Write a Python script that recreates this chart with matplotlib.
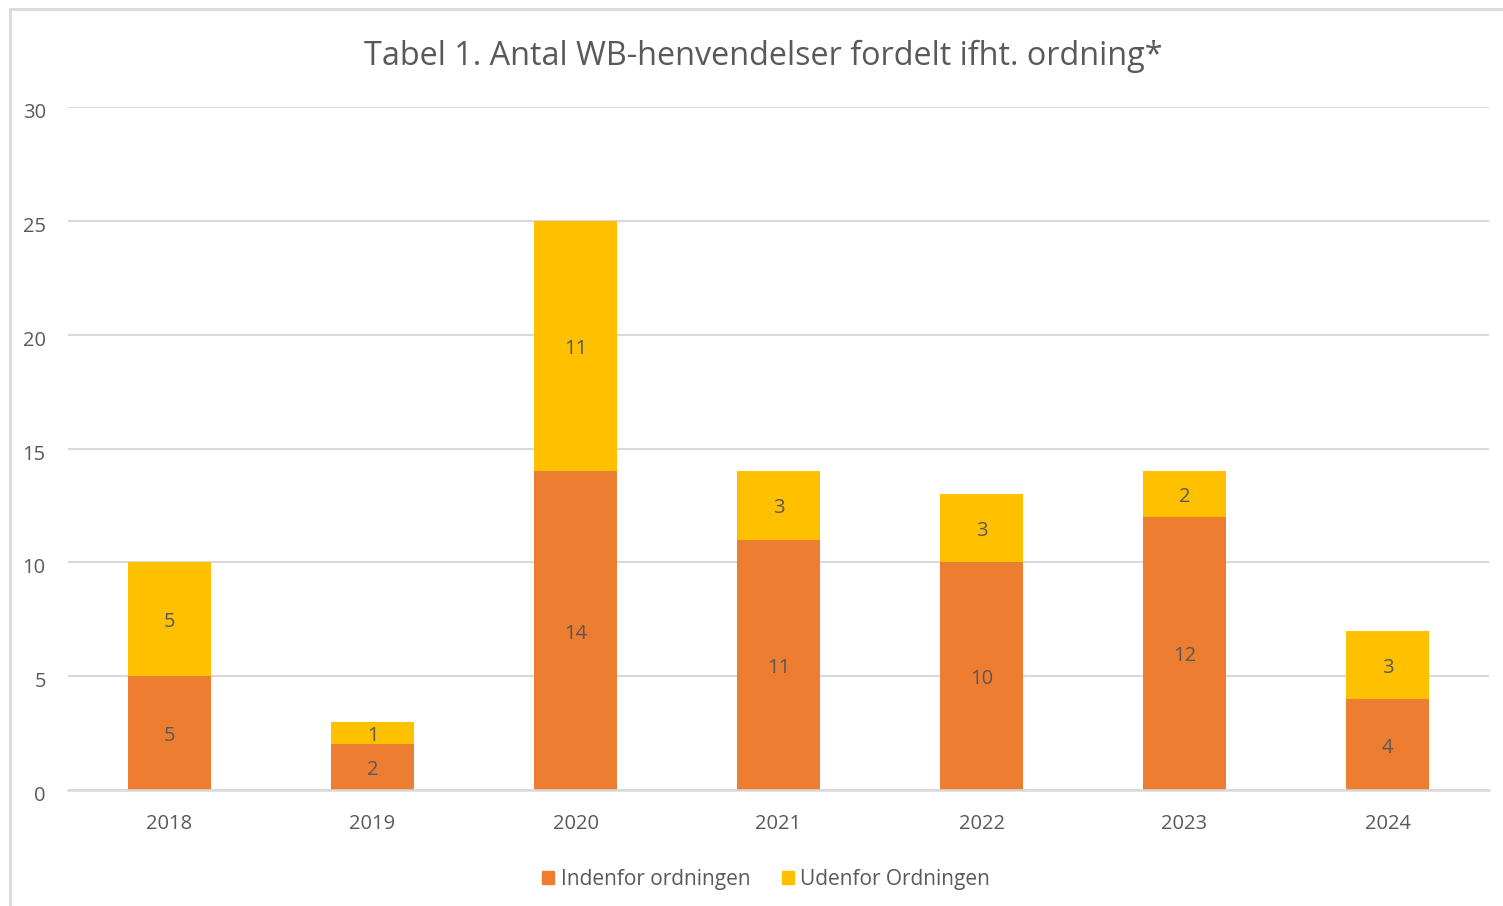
import matplotlib
matplotlib.use("Agg")
import matplotlib.pyplot as plt
from matplotlib.patches import Rectangle
from matplotlib.transforms import ScaledTranslation

years = ["2018", "2019", "2020", "2021", "2022", "2023", "2024"]
indenfor = [5, 2, 14, 11, 10, 12, 4]
udenfor = [5, 1, 11, 3, 3, 2, 3]
series_names = ["Indenfor ordningen", "Udenfor Ordningen"]
colors = ["#ED7D31", "#FFC000"]
yticks = [0, 5, 10, 15, 20, 25, 30]

plt.rcParams['font.family'] = ['Open Sans', 'DejaVu Sans']
txt = "#595959"
grid = "#D9D9D9"

W, H = 1503, 906
fig = plt.figure(figsize=(W / 100, H / 100), dpi=100)
ax = fig.add_axes([68 / W, 1 - 790 / H, (1489 - 68) / W, (790 - 107) / H])

x = list(range(len(years)))
bw = 0.404
b1 = ax.bar(x, indenfor, width=bw, color=colors[0], label=series_names[0], zorder=3)
b2 = ax.bar(x, udenfor, width=bw, bottom=indenfor, color=colors[1], label=series_names[1], zorder=3)
anns = ax.bar_label(b1, labels=[str(v) for v in indenfor], label_type='center', color=txt, fontsize=14.5)
anns += ax.bar_label(b2, labels=[str(v) for v in udenfor], label_type='center', color=txt, fontsize=14.5)
for a in anns:
    a.xyann = (0, -2.2)

ax.set_xlim(-0.5, 6.5)
ax.set_ylim(0, 30)
ax.set_yticks(yticks)
ax.set_yticklabels([str(t) for t in yticks])
ax.set_xticks(x)
ax.set_xticklabels(years)
ax.tick_params(axis='both', length=0, colors=txt, labelsize=14.5)
ax.tick_params(axis='y', pad=16)
ax.tick_params(axis='x', pad=17)
shift = ScaledTranslation(0, -3.5 / 100, fig.dpi_scale_trans)
for lbl in ax.get_yticklabels():
    lbl.set_transform(lbl.get_transform() + shift)
ax.grid(axis='y', color=grid, linewidth=1.5, zorder=0)
for s in ["top", "right", "left"]:
    ax.spines[s].set_visible(False)
ax.spines["bottom"].set_color(grid)
ax.spines["bottom"].set_linewidth(1.8)
ax.spines["bottom"].set_zorder(4)

fig.text(763 / W, 1 - 56 / H, "Tabel 1. Antal WB-henvendelser fordelt ifht. ordning*",
         ha='center', va='center', color=txt, fontsize=23.3)

handles = [Rectangle((0, 0), 1, 1, color=c) for c in colors]
fig.legend(handles, series_names, loc='center', bbox_to_anchor=(766 / W, 1 - 879 / H),
           ncol=2, frameon=False, fontsize=15, labelcolor=txt,
           handlelength=0.6, handleheight=0.6, handletextpad=0.3, columnspacing=1.5)

fig.add_artist(Rectangle((9.5 / W, -0.1), 2, 1.1 - 9.5 / H, transform=fig.transFigure,
                         fill=False, edgecolor=grid, linewidth=2))

fig.savefig("out.png", dpi=100, facecolor="white")
